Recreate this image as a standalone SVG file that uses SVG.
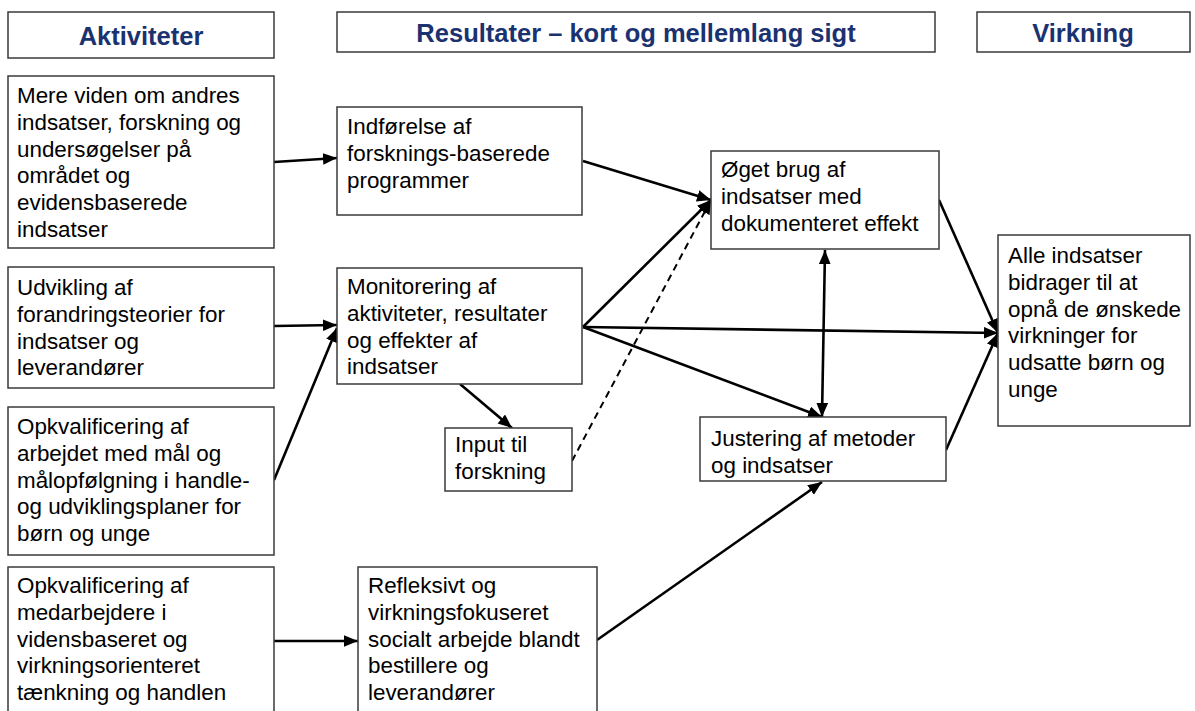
<svg xmlns="http://www.w3.org/2000/svg" width="1195" height="711" viewBox="0 0 1195 711">
<style>
.box{fill:#fff;stroke:#3a3a3a;stroke-width:1.5}
.hd{font-family:"Liberation Sans",Arial,sans-serif;font-weight:bold;font-size:25.5px;fill:#1b3270;text-anchor:middle}
.t{font-family:"Liberation Sans",Arial,sans-serif;font-size:22.4px;fill:#000}
.c{fill:none;stroke:#000;stroke-width:2.6}
.d{stroke-dasharray:7,5;stroke-width:2}
</style>
<defs>
<marker id="ah" viewBox="0 0 12 10" markerWidth="14" markerHeight="12" refX="12" refY="5" orient="auto-start-reverse" markerUnits="userSpaceOnUse">
<path d="M0,0 L12,5 L0,10 z" fill="#000"/>
</marker>
</defs>
<rect width="1195" height="711" fill="#fff"/>
<g id="hdr-aktiviteter"><rect class="box" x="8" y="12" width="266" height="46"/><text class="hd" x="141" y="45">Aktiviteter</text></g>
<g id="hdr-resultater"><rect class="box" x="337" y="12" width="598" height="40"/><text class="hd" x="636" y="42">Resultater – kort og mellemlang sigt</text></g>
<g id="hdr-virkning"><rect class="box" x="977" y="12" width="213" height="40"/><text class="hd" x="1083" y="42">Virkning</text></g>

<g id="connectors">
<path class="c" d="M274,162 L337,158" marker-end="url(#ah)"/>
<path class="c" d="M274,326 L337,325" marker-end="url(#ah)"/>
<path class="c" d="M274,480 L337,328" marker-end="url(#ah)"/>
<path class="c" d="M274,641 L358,641" marker-end="url(#ah)"/>
<path class="c" d="M583,161 L711,200" marker-end="url(#ah)"/>
<path class="c" d="M583,327 L711,200" marker-end="url(#ah)"/>
<path class="c" d="M583,327 L998,333" marker-end="url(#ah)"/>
<path class="c" d="M583,327 L822,417" marker-end="url(#ah)"/>
<path class="c" d="M460,384 L512,428" marker-end="url(#ah)"/>
<path class="c d" d="M572,461 L711,200" marker-end="url(#ah)"/>
<path class="c" d="M825,250 L822,417" marker-start="url(#ah)" marker-end="url(#ah)"/>
<path class="c" d="M939,200 L998,333" marker-end="url(#ah)"/>
<path class="c" d="M946,450 L998,333" marker-end="url(#ah)"/>
<path class="c" d="M597,640 L822,482" marker-end="url(#ah)"/>
</g>

<g id="a1"><rect class="box" x="8" y="76" width="266" height="172"/>
<text class="t" x="17" y="103"><tspan x="17">Mere viden om andres</tspan><tspan x="17" dy="26.8">indsatser, forskning og</tspan><tspan x="17" dy="26.8">undersøgelser på</tspan><tspan x="17" dy="26.8">området og</tspan><tspan x="17" dy="26.8">evidensbaserede</tspan><tspan x="17" dy="26.8">indsatser</tspan></text></g>

<g id="a2"><rect class="box" x="8" y="267" width="266" height="121"/>
<text class="t" x="17" y="295"><tspan x="17">Udvikling af</tspan><tspan x="17" dy="26.8">forandringsteorier for</tspan><tspan x="17" dy="26.8">indsatser og</tspan><tspan x="17" dy="26.8">leverandører</tspan></text></g>

<g id="a3"><rect class="box" x="8" y="407" width="266" height="148"/>
<text class="t" x="17" y="434"><tspan x="17">Opkvalificering af</tspan><tspan x="17" dy="26.8">arbejdet med mål og</tspan><tspan x="17" dy="26.8">målopfølgning i handle-</tspan><tspan x="17" dy="26.8">og udviklingsplaner for</tspan><tspan x="17" dy="26.8">børn og unge</tspan></text></g>

<g id="a4"><rect class="box" x="8" y="567" width="266" height="160"/>
<text class="t" x="17" y="593"><tspan x="17">Opkvalificering af</tspan><tspan x="17" dy="26.8">medarbejdere i</tspan><tspan x="17" dy="26.8">vidensbaseret og</tspan><tspan x="17" dy="26.8">virkningsorienteret</tspan><tspan x="17" dy="26.8">tænkning og handlen</tspan></text></g>

<g id="r1"><rect class="box" x="337" y="107" width="245" height="108"/>
<text class="t" x="347" y="134"><tspan x="347">Indførelse af</tspan><tspan x="347" dy="26.8">forsknings-baserede</tspan><tspan x="347" dy="26.8">programmer</tspan></text></g>

<g id="r2"><rect class="box" x="337" y="268" width="245" height="116"/>
<text class="t" x="347" y="294"><tspan x="347">Monitorering af</tspan><tspan x="347" dy="26.8">aktiviteter, resultater</tspan><tspan x="347" dy="26.8">og effekter af</tspan><tspan x="347" dy="26.8">indsatser</tspan></text></g>

<g id="input"><rect class="box" x="445" y="428" width="127" height="63"/>
<text class="t" x="455" y="452"><tspan x="455">Input til</tspan><tspan x="455" dy="27">forskning</tspan></text></g>

<g id="r4"><rect class="box" x="358" y="567" width="239" height="160"/>
<text class="t" x="368" y="593"><tspan x="368">Refleksivt og</tspan><tspan x="368" dy="26.8">virkningsfokuseret</tspan><tspan x="368" dy="26.8">socialt arbejde blandt</tspan><tspan x="368" dy="26.8">bestillere og</tspan><tspan x="368" dy="26.8">leverandører</tspan></text></g>

<g id="oeget"><rect class="box" x="711" y="151" width="228" height="98"/>
<text class="t" x="721" y="177"><tspan x="721">Øget brug af</tspan><tspan x="721" dy="26.8">indsatser med</tspan><tspan x="721" dy="26.8">dokumenteret effekt</tspan></text></g>

<g id="justering"><rect class="box" x="700" y="417" width="246" height="64"/>
<text class="t" x="711" y="446"><tspan x="711">Justering af metoder</tspan><tspan x="711" dy="26.5">og indsatser</tspan></text></g>

<g id="alle"><rect class="box" x="998" y="235" width="192" height="191"/>
<text class="t" x="1008" y="263"><tspan x="1008">Alle indsatser</tspan><tspan x="1008" dy="26.8">bidrager til at</tspan><tspan x="1008" dy="26.8">opnå de ønskede</tspan><tspan x="1008" dy="26.8">virkninger for</tspan><tspan x="1008" dy="26.8">udsatte børn og</tspan><tspan x="1008" dy="26.8">unge</tspan></text></g>
</svg>
